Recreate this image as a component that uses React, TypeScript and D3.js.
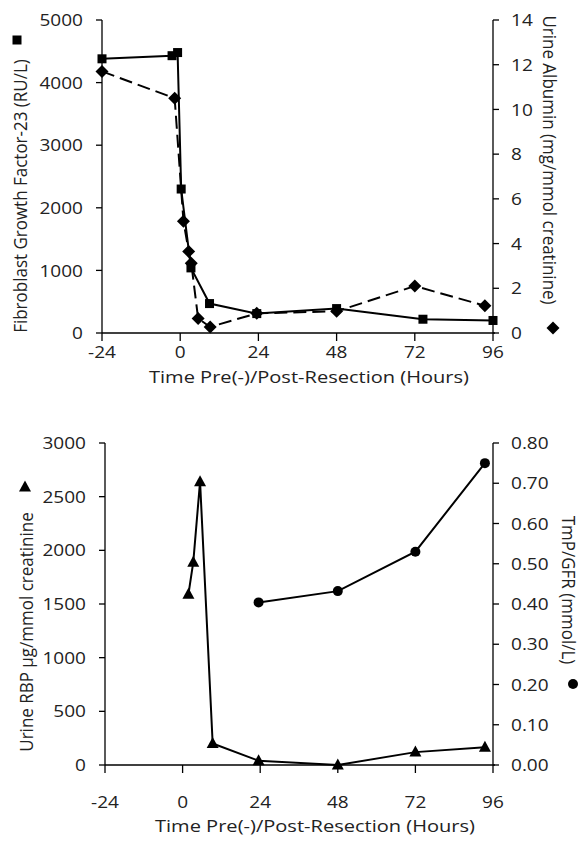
import * as d3 from "d3";

const FONT = "'Open Sans', sans-serif";

// top panel
const fgfHours = [-24, -2.5, -0.8, 0.3, 3.3, 9, 23.5, 48, 74.5, 96];
const fgfValues = [4380, 4430, 4480, 2300, 1040, 470, 310, 390, 220, 200];
const albHours = [-24, -1.7, 1, 2.6, 3.4, 5.5, 9.2, 23.5, 48, 72, 93.5];
const albValues = [11.7, 10.5, 5.0, 3.65, 3.12, 0.65, 0.27, 0.88, 0.97, 2.1, 1.22];

// bottom panel
const rbpHours = [1.8, 3.3, 5.4, 9.3, 23.5, 48, 72, 93.5];
const rbpValues = [1590, 1890, 2640, 200, 40, 0, 120, 165];
const tmpHours = [23.5, 48, 72, 93.5];
const tmpValues = [0.404, 0.432, 0.53, 0.75];

const xTicks = [-24, 0, 24, 48, 72, 96];
const fgfTicks = [0, 1000, 2000, 3000, 4000, 5000];
const albTicks = [0, 2, 4, 6, 8, 10, 12, 14];
const rbpTicks = [0, 500, 1000, 1500, 2000, 2500, 3000];
const tmpTicks = [0, 0.1, 0.2, 0.3, 0.4, 0.5, 0.6, 0.7, 0.8];

const zip = (xs: number[], ys: number[]) => xs.map((x, i) => ({ x, y: ys[i] }));

type Pt = { x: number; y: number };

// the source image is a little stretched sideways, so text gets a horizontal scale
const Txt = ({ x, y, sx = 1.12, rot = 0, anchor = "middle", dy, size = 17, children }: any) => (
  <text transform={`translate(${x},${y}) scale(${sx},1) rotate(${rot})`} textAnchor={anchor} dy={dy} fontSize={size}>
    {children}
  </text>
);

const Marker = ({ kind, x, y }: { kind: string; x: number; y: number }) => {
  if (kind === "square") return <rect x={x - 4.5} y={y - 4.5} width={9} height={9} fill="#000" />;
  if (kind === "diamond")
    return <path d={`M${x},${y - 6.5}L${x + 6.5},${y}L${x},${y + 6.5}L${x - 6.5},${y}Z`} fill="#000" />;
  if (kind === "triangle")
    return <path d={`M${x},${y - 6.5}L${x + 6},${y + 4.5}L${x - 6},${y + 4.5}Z`} fill="#000" />;
  return <circle cx={x} cy={y} r={5} fill="#000" />;
};

const Series = ({ data, xs, ys, kind, dashed }: {
  data: Pt[]; xs: d3.ScaleLinear<number, number>; ys: d3.ScaleLinear<number, number>; kind: string; dashed?: boolean;
}) => {
  const line = d3.line<Pt>().x(d => xs(d.x)).y(d => ys(d.y));
  return (
    <g>
      <path d={line(data) || ""} fill="none" stroke="#000" strokeWidth={2}
        strokeDasharray={dashed ? "13,6" : undefined} />
      {data.map((d, i) => <Marker key={i} kind={kind} x={xs(d.x)} y={ys(d.y)} />)}
    </g>
  );
};

const Panel = ({ top, bottom, left, right, leftTicks, leftDomain, leftFmt, rightTicks, rightDomain, rightFmt,
  leftTitle, leftTitleX, leftTitleY, leftMarker, leftKind, rightTitle, rightTitleX, rightTitleY, rightMarker, rightKind,
  tickLabelDy, titleDy, titleX, children }: any) => {
  const xs = d3.scaleLinear().domain([-24, 96]).range([left, right]);
  const yl = d3.scaleLinear().domain(leftDomain).range([bottom, top]);
  const yr = d3.scaleLinear().domain(rightDomain).range([bottom, top]);
  return (
    <g fontFamily={FONT} fill="#222">
      <line x1={left} x2={left} y1={top} y2={bottom} stroke="#000" strokeWidth={1.3} />
      <line x1={right} x2={right} y1={top} y2={bottom} stroke="#000" strokeWidth={1.3} />
      <line x1={left} x2={right + 2} y1={bottom} y2={bottom} stroke="#000" strokeWidth={1.3} />
      {leftTicks.map((t: number) => (
        <g key={"l" + t}>
          <line x1={left - 6} x2={left} y1={yl(t)} y2={yl(t)} stroke="#000" strokeWidth={1.3} />
          <Txt x={left - 19} y={yl(t)} dy="0.36em" anchor="end">{leftFmt(t)}</Txt>
        </g>
      ))}
      {rightTicks.map((t: number) => (
        <g key={"r" + t}>
          <line x1={right} x2={right + 6} y1={yr(t)} y2={yr(t)} stroke="#000" strokeWidth={1.3} />
          <Txt x={right + 18} y={yr(t)} dy="0.36em" anchor="start">{rightFmt(t)}</Txt>
        </g>
      ))}
      {xTicks.map(t => (
        <g key={"x" + t}>
          <line x1={xs(t)} x2={xs(t)} y1={bottom} y2={bottom + 8} stroke="#000" strokeWidth={1.3} />
          <Txt x={xs(t)} y={bottom + tickLabelDy}>{t}</Txt>
        </g>
      ))}
      <Txt x={titleX} y={bottom + titleDy} sx={1.18}>Time Pre(-)/Post-Resection (Hours)</Txt>
      <Txt x={leftTitleX} y={leftTitleY} rot={-90}>{leftTitle}</Txt>
      <Marker kind={leftKind} x={leftMarker[0]} y={leftMarker[1]} />
      <Txt x={rightTitleX} y={rightTitleY} rot={90}>{rightTitle}</Txt>
      <Marker kind={rightKind} x={rightMarker[0]} y={rightMarker[1]} />
      {children(xs, yl, yr)}
    </g>
  );
};

export default function App() {
  return (
    <svg width={583} height={841} style={{ position: "absolute", left: 0, top: 0, background: "#fff" }}>
      <Panel top={20} bottom={333} left={102} right={493} tickLabelDy={25} titleDy={50} titleX={309}
        leftTicks={fgfTicks} leftDomain={[0, 5000]} leftFmt={(t: number) => String(t)}
        rightTicks={albTicks} rightDomain={[0, 14]} rightFmt={(t: number) => String(t)}
        leftTitle="Fibroblast Growth Factor-23 (RU/L)" leftTitleX={27} leftTitleY={196} leftMarker={[17, 40]} leftKind="square"
        rightTitle="Urine Albumin (mg/mmol creatinine)" rightTitleX={543} rightTitleY={160} rightMarker={[553, 328]} rightKind="diamond">
        {(xs: any, yl: any, yr: any) => (
          <g>
            <Series data={zip(albHours, albValues)} xs={xs} ys={yr} kind="diamond" dashed />
            <Series data={zip(fgfHours, fgfValues)} xs={xs} ys={yl} kind="square" />
          </g>
        )}
      </Panel>
      <Panel top={443} bottom={765} left={105} right={493} tickLabelDy={43} titleDy={67} titleX={315}
        leftTicks={rbpTicks} leftDomain={[0, 3000]} leftFmt={(t: number) => String(t)}
        rightTicks={tmpTicks} rightDomain={[0, 0.8]} rightFmt={(t: number) => t.toFixed(2)}
        leftTitle="Urine RBP µg/mmol creatinine" leftTitleX={33} leftTitleY={632} leftMarker={[25, 487]} leftKind="triangle"
        rightTitle="TmP/GFR (mmol/L)" rightTitleX={562} rightTitleY={590} rightMarker={[573, 684]} rightKind="circle">
        {(xs: any, yl: any, yr: any) => (
          <g>
            <Series data={zip(rbpHours, rbpValues)} xs={xs} ys={yl} kind="triangle" />
            <Series data={zip(tmpHours, tmpValues)} xs={xs} ys={yr} kind="circle" />
          </g>
        )}
      </Panel>
    </svg>
  );
}
